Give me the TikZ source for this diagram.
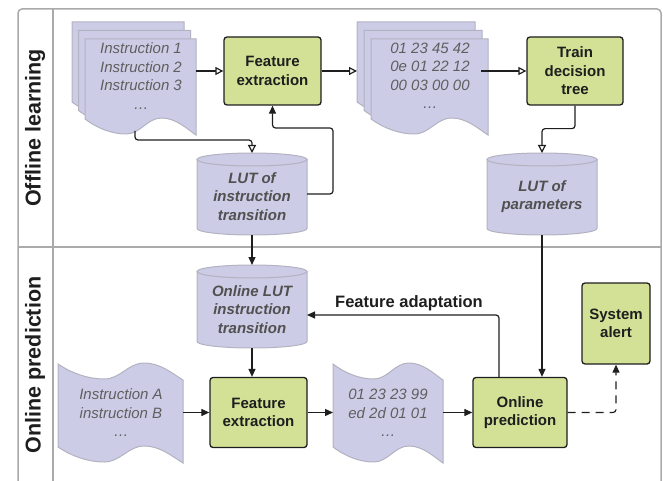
\documentclass[tikz,border=0pt]{standalone}
\usepackage{fontspec}
\setmainfont{Liberation Sans}
\usetikzlibrary{arrows.meta}
\definecolor{lav}{RGB}{205,204,230}
\definecolor{lavline}{RGB}{178,178,192}
\definecolor{grn}{RGB}{210,225,150}
\definecolor{framec}{RGB}{170,170,170}
\definecolor{txtgray}{RGB}{95,95,95}
\definecolor{cyltxt}{RGB}{80,80,80}
\definecolor{ink}{RGB}{30,30,30}
\tikzset{
  proc/.style={draw=ink, line width=1.3pt, fill=grn, rounded corners=3pt, align=center,
    font=\bfseries\fontsize{15}{18.5}\selectfont, text=ink, inner sep=0pt},
  shapefill/.style={fill=lav, draw=lavline, line width=1pt},
  doctext/.style={align=center, font=\itshape\fontsize{15}{18.5}\selectfont, text=txtgray, inner sep=0pt},
  cyltext/.style={align=center, font=\bfseries\itshape\fontsize{15}{18.5}\selectfont, text=cyltxt, inner sep=0pt},
  holder/.style={inner sep=0pt, outer sep=0pt},
  conn/.style={draw=ink, line width=1.2pt, rounded corners=3pt},
  openarr/.style={-{Triangle[fill=white, length=8pt, width=8pt]}},
  fillarr/.style={-{Triangle[length=8pt, width=7pt]}},
  lanelab/.style={font=\bfseries\fontsize{21.5}{24}\selectfont, rotate=90, text=ink},
  page/.pic={
    \path[shapefill] (0,0) -- (1,0) -- (1,96) .. controls (0.92,90) and (0.82,79) .. (0.69,79)
      .. controls (0.56,79) and (0.5,95) .. (0.37,95) .. controls (0.25,95) and (0.12,90) .. (0,80) -- cycle;
  },
  tape/.pic={
    \path[shapefill] (0,0) .. controls (0.12,10) and (0.25,15) .. (0.37,15)
      .. controls (0.5,15) and (0.56,-1) .. (0.69,-1) .. controls (0.82,-1) and (0.92,10) .. (1,16)
      -- (1,99) .. controls (0.92,93) and (0.82,82) .. (0.69,82) .. controls (0.56,82) and (0.5,98) .. (0.37,98)
      .. controls (0.25,98) and (0.12,93) .. (0,83) -- cycle;
  },
}
% cylinder: x0, x1, ytop, ybottom
\newcommand\mycyl[4]{%
  \path[shapefill] (#1,{#3+6.5}) -- (#1,{#4-6.5}) arc[start angle=180, end angle=0, x radius={(#2-#1)/2}, y radius=6.5]
     -- (#2,{#3+6.5}) -- cycle;
  \path[shapefill] ({(#1+#2)/2},{#3+6.5}) ellipse[x radius={(#2-#1)/2}, y radius=6.5];
}
\begin{document}
\begin{tikzpicture}[x=1pt,y=-1pt]
\useasboundingbox (0,0) rectangle (663,481);

% swimlane frame
\draw[framec, line width=1.5pt, rounded corners=4pt] (18,500) -- (18,9) -- (661,9) -- (661,500);
\draw[framec, line width=1.5pt] (53,9) -- (53,500);
\draw[framec, line width=1.5pt] (18,247) -- (661,247);
\node[lanelab] (lane1) at (35,128) {Offline learning};
\node[lanelab] (lane2) at (35,365) {Online prediction};

% ---------- offline lane ----------
% instruction stack
\pic[xscale=112] at (72,22) {page};
\pic[xscale=112] at (78.5,30.5) {page};
\pic[xscale=111] at (85,39) {page};
\node[holder, minimum width=111pt, minimum height=94pt] (stack1) at (140.5,86) {};
\node[doctext] (stack1t) at (141,76) {Instruction 1\\Instruction 2\\Instruction 3\\\dots};
\coordinate (instrbot) at (135,131);

% feature extraction
\node[proc, minimum width=97pt, minimum height=68pt] (fe1) at (272.5,71) {Feature\\extraction};

% hex stack
\pic[xscale=118] at (357,22) {page};
\pic[xscale=118] at (364,30.5) {page};
\pic[xscale=117] at (371,39) {page};
\node[holder, minimum width=117pt, minimum height=94pt] (stack2) at (429.5,86) {};
\node[doctext] (stack2t) at (430,76) {01 23 45 42\\0e 01 22 12\\00 03 00 00\\\dots};
\coordinate (hexin) at (357,71);
\coordinate (hexout) at (481,71);

% train decision tree
\node[proc, minimum width=96pt, minimum height=68pt] (train) at (575,71) {Train\\decision\\tree};

% LUT of instruction transition
\mycyl{197}{307}{153}{235}
\node[holder, minimum width=110pt, minimum height=82pt] (lut1) at (252,194) {};
\node[cyltext] (lut1t) at (252,196.5) {LUT of\\instruction\\transition};

% LUT of parameters
\mycyl{487}{597}{153}{235}
\node[holder, minimum width=110pt, minimum height=82pt] (lut2) at (542,194) {};
\node[cyltext] (lut2t) at (542,196.5) {LUT of\\parameters};

% ---------- online lane ----------
\mycyl{197}{307}{265}{348}
\node[holder, minimum width=110pt, minimum height=83pt] (onlut) at (252,306.5) {};
\node[cyltext] (onlutt) at (252,309.5) {Online LUT\\instruction\\transition};

\pic[xscale=125] at (58,364) {tape};
\node[holder, minimum width=125pt, minimum height=100pt] (tapeA) at (120.5,412.5) {};
\node[doctext] (tapeAt) at (121,413) {Instruction A\\instruction B\\\dots};

\node[proc, minimum width=97pt, minimum height=70pt] (fe2) at (258.5,412.5) {Feature\\extraction};

\pic[xscale=110] at (333,364) {tape};
\node[holder, minimum width=110pt, minimum height=100pt] (tapeH) at (388,412.5) {};
\node[doctext] (tapeHt) at (388,413) {01 23 23 99\\ed 2d 01 01\\\dots};

\node[proc, minimum width=94pt, minimum height=70pt] (op) at (520,412.5) {Online\\prediction};
\node[proc, minimum width=68pt, minimum height=81pt] (alert) at (616,323.5) {System\\alert};

\coordinate (opfa) at (499,377.5);
\coordinate (fain) at (307,315);
\node[font=\bfseries\fontsize{16.5}{19}\selectfont, text=ink] (falab) at (409,303) {Feature adaptation};

% ---------- connectors ----------
\draw[conn, openarr] (stack1.east |- fe1.west) -- (fe1.west);
\draw[conn, openarr] (instrbot) -- ++(0,9) -| (lut1.north);
\draw[conn, openarr] (fe1.east) -- (hexin);
\draw[conn, openarr] (hexout) -- (train.west);
\draw[conn, openarr] (train.south) -- ++(0,23) -| (lut2.north);
\draw[conn, fillarr] (lut1.east) -- ++(26,0) -- ++(0,-66) -| (fe1.south);
\draw[conn, fillarr] (lut2.south) -- (op.north -| lut2.south);
\draw[conn, fillarr] (lut1.south) -- (onlut.north);
\draw[conn, fillarr] (onlut.south) -- (onlut.south |- fe2.north);
\draw[conn, fillarr] (tapeA.east) -- (fe2.west);
\draw[conn, fillarr] (fe2.east) -- (tapeH.west);
\draw[conn, fillarr] (tapeH.east) -- (op.west);
\draw[conn, fillarr, dash pattern=on 8pt off 6pt] (op.east) -| (alert.south);
\draw[conn, fillarr] (opfa) |- (fain);
\end{tikzpicture}
\end{document}
